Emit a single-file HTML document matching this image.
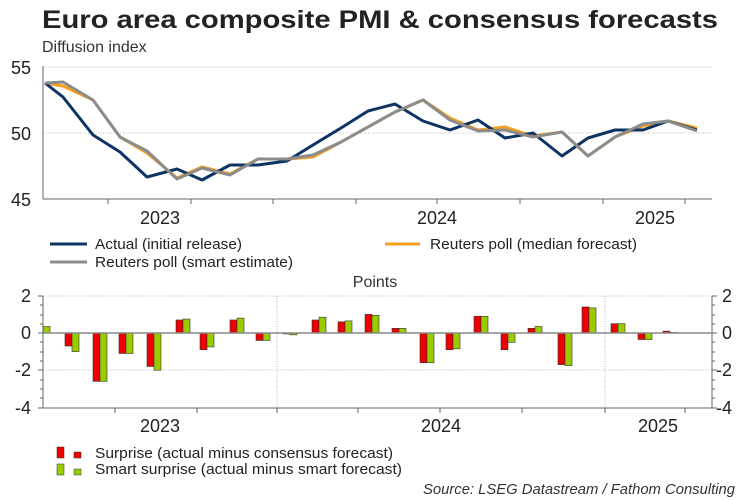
<!DOCTYPE html>
<html><head><meta charset="utf-8"><style>
body{margin:0;background:#fff;}
svg{display:block;font-family:"Liberation Sans",Arial,sans-serif;}
</style></head><body>
<svg width="750" height="500" viewBox="0 0 750 500">
<text x="42" y="28" font-size="25" font-weight="bold" fill="#222" textLength="676" lengthAdjust="spacingAndGlyphs">Euro area composite PMI &amp; consensus forecasts</text>
<text x="42" y="52" font-size="16" fill="#333">Diffusion index</text>
<!-- top chart -->
<g stroke="#bbb" stroke-dasharray="1,1.5" stroke-width="1">
<line x1="43" y1="67" x2="712" y2="67"/><line x1="43" y1="133" x2="712" y2="133"/>
</g>
<line x1="43" y1="66" x2="43" y2="199" stroke="#666"/>
<line x1="43" y1="199" x2="712" y2="199" stroke="#666"/>
<g stroke="#666">
<line x1="108" y1="199" x2="108" y2="204"/><line x1="191" y1="199" x2="191" y2="204"/><line x1="273" y1="199" x2="273" y2="204"/><line x1="356" y1="199" x2="356" y2="204"/><line x1="437" y1="199" x2="437" y2="204"/><line x1="520" y1="199" x2="520" y2="204"/><line x1="603" y1="199" x2="603" y2="204"/><line x1="685" y1="199" x2="685" y2="204"/>
</g>
<g font-size="18" fill="#222" text-anchor="end">
<text x="31" y="74">55</text><text x="31" y="140">50</text><text x="31" y="206">45</text>
</g>
<g font-size="18" fill="#222" text-anchor="middle">
<text x="160" y="224">2023</text><text x="437" y="224">2024</text><text x="655" y="224">2025</text>
</g>
<g fill="none" stroke-width="3" stroke-linejoin="round">
<polyline stroke="#f5a020" points="45,83 63,86 93,100 120,137 147,153 177,178 202,167 230,174 258,159 287,159 313,157 341,142 368,127 395,112 423,100 450,118 478,130 505,127 533,136 562,132 588,156 615,137 643,126 668,121 697,128"/>
<polyline stroke="#0d3463" points="45,83 63,97 93,135 120,152 147,177 177,169 202,180 230,165 258,165 287,161 313,145 341,128 368,111 395,104 423,121 450,130 478,120 505,138 533,133 562,156 588,138 615,130 643,130 668,121 697,130"/>
<polyline stroke="#8c8c8c" points="45,83 63,82 93,100 120,137 147,151 177,179 202,168 230,175 258,159 287,159 313,155 341,142 368,127 395,112 423,100 450,120 478,131 505,130 533,137 562,132 588,156 615,137 643,124 668,121 697,131"/>
</g>
<!-- top legend -->
<line x1="50" y1="244" x2="87" y2="244" stroke="#0d3463" stroke-width="3"/>
<text x="95" y="249" font-size="15" fill="#222" textLength="147" lengthAdjust="spacingAndGlyphs">Actual (initial release)</text>
<line x1="385" y1="244" x2="420" y2="244" stroke="#f5a020" stroke-width="3"/>
<text x="430" y="249" font-size="15" fill="#222" textLength="207" lengthAdjust="spacingAndGlyphs">Reuters poll (median forecast)</text>
<line x1="50" y1="262" x2="87" y2="262" stroke="#8c8c8c" stroke-width="3"/>
<text x="95" y="267" font-size="15" fill="#222" textLength="198" lengthAdjust="spacingAndGlyphs">Reuters poll (smart estimate)</text>
<text x="375" y="287" font-size="16" fill="#333" text-anchor="middle">Points</text>
<!-- bottom chart -->
<g stroke="#bbb" stroke-dasharray="1,1.5">
<line x1="43" y1="296" x2="712" y2="296"/><line x1="43" y1="370" x2="712" y2="370"/>
<line x1="277" y1="296" x2="277" y2="408"/><line x1="605" y1="296" x2="605" y2="408"/>
</g>
<line x1="43" y1="296" x2="43" y2="408" stroke="#666"/>
<line x1="712" y1="296" x2="712" y2="408" stroke="#666"/>
<line x1="43" y1="408" x2="712" y2="408" stroke="#666"/>
<g stroke="#666">
<line x1="38" y1="296" x2="43" y2="296"/><line x1="38" y1="333" x2="43" y2="333"/><line x1="38" y1="370" x2="43" y2="370"/><line x1="38" y1="408" x2="43" y2="408"/>
<line x1="40" y1="305" x2="43" y2="305"/><line x1="40" y1="315" x2="43" y2="315"/><line x1="40" y1="324" x2="43" y2="324"/><line x1="40" y1="342" x2="43" y2="342"/><line x1="40" y1="352" x2="43" y2="352"/><line x1="40" y1="361" x2="43" y2="361"/><line x1="40" y1="380" x2="43" y2="380"/><line x1="40" y1="389" x2="43" y2="389"/><line x1="40" y1="398" x2="43" y2="398"/>
<line x1="712" y1="296" x2="717" y2="296"/><line x1="712" y1="333" x2="717" y2="333"/><line x1="712" y1="370" x2="717" y2="370"/><line x1="712" y1="408" x2="717" y2="408"/>
<line x1="712" y1="305" x2="715" y2="305"/><line x1="712" y1="315" x2="715" y2="315"/><line x1="712" y1="324" x2="715" y2="324"/><line x1="712" y1="342" x2="715" y2="342"/><line x1="712" y1="352" x2="715" y2="352"/><line x1="712" y1="361" x2="715" y2="361"/><line x1="712" y1="380" x2="715" y2="380"/><line x1="712" y1="389" x2="715" y2="389"/><line x1="712" y1="398" x2="715" y2="398"/>
<line x1="115" y1="408" x2="115" y2="413"/><line x1="197" y1="408" x2="197" y2="413"/><line x1="277" y1="408" x2="277" y2="413"/><line x1="358" y1="408" x2="358" y2="413"/><line x1="440" y1="408" x2="440" y2="413"/><line x1="522" y1="408" x2="522" y2="413"/><line x1="605" y1="408" x2="605" y2="413"/><line x1="685" y1="408" x2="685" y2="413"/>
</g>
<g font-size="18" fill="#222" text-anchor="end">
<text x="31" y="302">2</text><text x="31" y="339">0</text><text x="31" y="376">-2</text><text x="31" y="414">-4</text>
</g>
<g font-size="18" fill="#222" text-anchor="start">
<text x="722" y="302">2</text><text x="722" y="339">0</text><text x="716" y="376">-2</text><text x="716" y="414">-4</text>
</g>
<g font-size="18" fill="#222" text-anchor="middle">
<text x="160" y="432">2023</text><text x="441" y="432">2024</text><text x="658" y="432">2025</text>
</g>
<g id="bars" stroke="#333" stroke-width="0.6"></g>
<line x1="43" y1="333" x2="712" y2="333" stroke="#888" stroke-width="1.5"/>
<!-- bottom legend -->
<rect x="57" y="447" width="7" height="11" fill="#e00" stroke="#333" stroke-width="0.5"/>
<rect x="74" y="452" width="7" height="6" fill="#e00" stroke="#333" stroke-width="0.5"/>
<text x="95" y="458" font-size="15" fill="#222" textLength="298" lengthAdjust="spacingAndGlyphs">Surprise (actual minus consensus forecast)</text>
<rect x="57" y="464" width="7" height="11" fill="#99cc00" stroke="#333" stroke-width="0.5"/>
<rect x="74" y="469" width="7" height="6" fill="#99cc00" stroke="#333" stroke-width="0.5"/>
<text x="95" y="474" font-size="15" fill="#222" textLength="307" lengthAdjust="spacingAndGlyphs">Smart surprise (actual minus smart forecast)</text>
<text x="735" y="494" font-size="15" fill="#333" font-style="italic" text-anchor="end" textLength="312" lengthAdjust="spacingAndGlyphs">Source: LSEG Datastream / Fathom Consulting</text>
</svg>
<script>
var d=[[47,null,0.35],[72,-0.7,-1.0],[100,-2.6,-2.6],[126,-1.1,-1.1],[154,-1.8,-2.0],[183,0.7,0.75],[207,-0.9,-0.75],[237,0.7,0.8],[263,-0.4,-0.4],[290,-0.05,-0.1],[319,0.7,0.85],[345,0.6,0.65],[372,1.0,0.95],[399,0.25,0.25],[427,-1.6,-1.6],[453,-0.9,-0.85],[481,0.9,0.9],[508,-0.9,-0.5],[535,0.25,0.35],[565,-1.7,-1.75],[589,1.4,1.35],[618,0.5,0.5],[645,-0.35,-0.35],[670,0.1,0.03]];
var g=document.getElementById('bars'),s='',k=18.6,z=333;
function r(x,v,c){if(v==null)return '';var h=Math.abs(v)*k,y=v>0?z-h:z;return '<rect x="'+x+'" y="'+y+'" width="7" height="'+h+'" fill="'+c+'"/>';}
d.forEach(function(a){if(a[1]==null){s+=r(a[0]-4,a[2],'#99cc00');}else{s+=r(a[0]-7,a[1],'#ee0000')+r(a[0],a[2],'#99cc00');}});
g.innerHTML=s;
</script>
</body></html>
